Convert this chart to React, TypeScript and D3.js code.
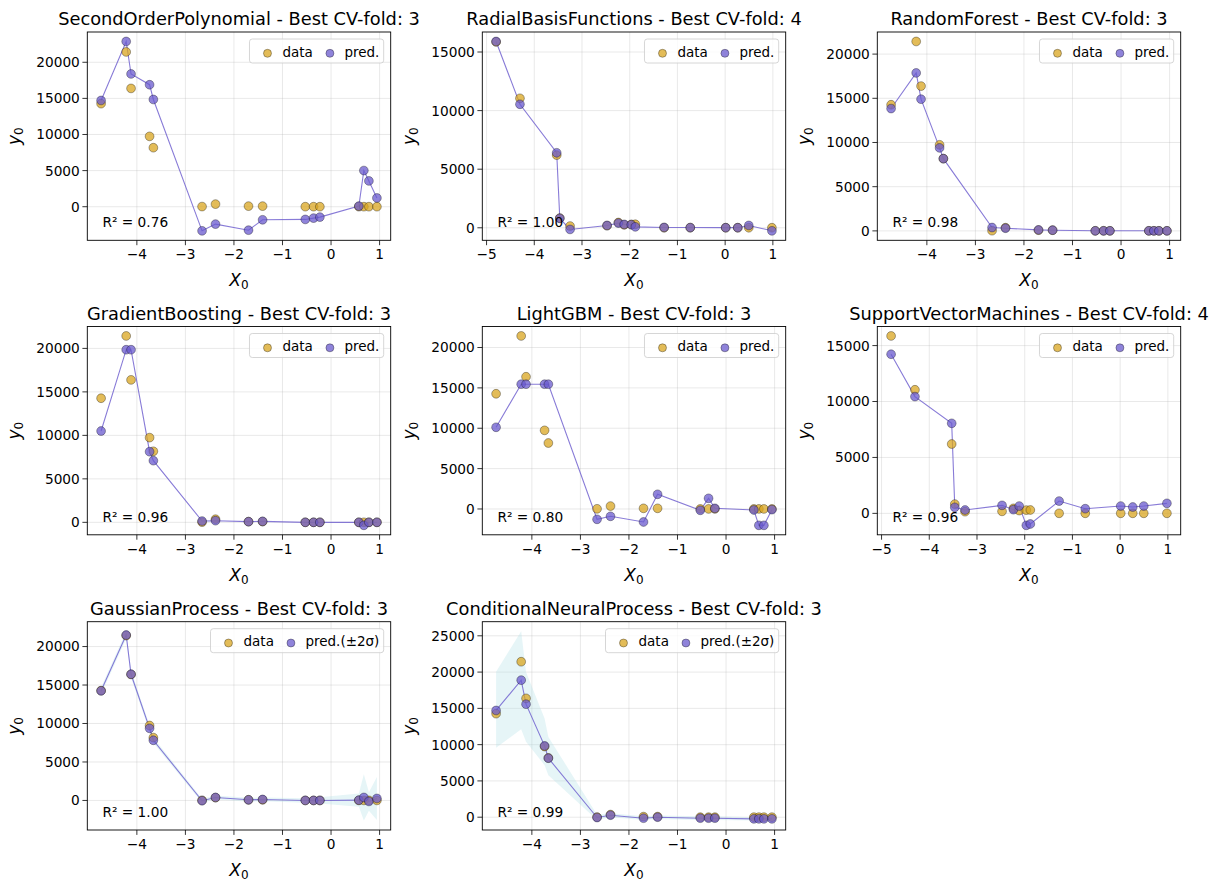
import React from 'react';
import * as d3 from 'd3';

// ---------------- data ----------------
const X_FOLD3 = [-4.737, -4.22, -4.12, -3.738, -3.66, -2.657, -2.38, -1.7, -1.41, -0.53, -0.36, -0.23, 0.573, 0.676, 0.78, 0.945];
const X_FOLD4 = [-4.8, -4.3, -3.53, -3.465, -3.25, -2.475, -2.237, -2.115, -1.966, -1.882, -1.279, -0.731, 0.012, 0.264, 0.495, 0.98];
const Y_FOLD3 = [14270, 21430, 16380, 9740, 8170, 20, 360, 80, 80, 5, 5, 5, 5, 5, 5, 5];
const Y_FOLD4 = [15860, 11050, 6200, 830, 150, 180, 450, 250, 290, 300, 5, 5, 5, 5, 5, 5];

const MODEL_NAMES = ['SecondOrderPolynomial', 'RadialBasisFunctions', 'RandomForest', 'GradientBoosting', 'LightGBM', 'SupportVectorMachines', 'GaussianProcess', 'ConditionalNeuralProcess'];
const BEST_FOLDS = [3, 4, 3, 3, 3, 4, 3, 3];
const R2_SCORES = ['0.76', '1.00', '0.98', '0.96', '0.80', '0.96', '1.00', '0.99'];

const PRED_SOP = [14710, 22880, 18380, 16890, 14850, -3340, -2410, -3250, -1810, -1760, -1580, -1440, 90, 5010, 3570, 1210];
const PRED_RBF = [15900, 10540, 6400, 800, -140, 200, 400, 290, 260, 80, 30, 20, 10, 10, 200, -260];
const PRED_RF = [13840, 17870, 14900, 9390, 8175, 380, 300, 110, 76, 10, 10, 10, 10, 10, 10, 10];
const PRED_GB = [10500, 19850, 19850, 8120, 7090, 150, 190, 77, 115, 0, 0, 0, 0, -345, 0, 0];
const PRED_LGBM = [10120, 15455, 15455, 15455, 15455, -1280, -910, -1610, 1820, -165, 1320, 83, -124, -2025, -2025, -83];
const PRED_SVM = [14225, 10440, 8050, 540, 300, 716, 330, 656, -1070, -950, 1100, 418, 656, 567, 656, 895];
const PRED_GP = [14250, 21500, 16400, 9370, 7820, -40, 390, 86, 130, 0, 0, 0, 43, 389, -130, 259];
const LOWER_GP = [13800, 21000, 15950, 8970, 7470, -290, 140, -164, -120, -300, -350, -400, -807, -2611, -1330, -2541];
const UPPER_GP = [14700, 22000, 16850, 9770, 8170, 210, 640, 336, 380, 300, 350, 400, 893, 3389, 1070, 3059];
const PRED_CNP = [14710, 18890, 15580, 9830, 8130, -46, 276, -138, 0, -138, -138, -138, -230, -230, -230, -230];
const LOWER_CNP = [9555, 12130, 10400, 7170, 5790, -400, 0, -400, -250, -400, -400, -400, -460, -460, -460, -460];
const UPPER_CNP = [20030, 25640, 20000, 13600, 11070, 350, 560, 130, 250, 130, 130, 130, 0, 0, 0, 0];

const X_TICKS_FOLD3 = [-4, -3, -2, -1, 0, 1];
const X_TICKS_FOLD4 = [-5, -4, -3, -2, -1, 0, 1];
const Y_TICKS_15K = [0, 5000, 10000, 15000];
const Y_TICKS_20K = [0, 5000, 10000, 15000, 20000];
const Y_TICKS_25K = [0, 5000, 10000, 15000, 20000, 25000];

const LEGEND_DATA = 'data';
const LEGEND_PRED = 'pred.';
const LEGEND_PRED_SIGMA = 'pred.(±2σ)';

// ---------------- panel table ----------------
type PanelCfg = {
  name: string; fold: number; r2: string;
  x: number[]; data: number[]; pred: number[];
  lower?: number[]; upper?: number[];
  xTicks: number[]; yTicks: number[]; predLabel: string;
};

const PREDS = [PRED_SOP, PRED_RBF, PRED_RF, PRED_GB, PRED_LGBM, PRED_SVM, PRED_GP, PRED_CNP];
const LOWERS: (number[] | undefined)[] = [undefined, undefined, undefined, undefined, undefined, undefined, LOWER_GP, LOWER_CNP];
const UPPERS: (number[] | undefined)[] = [undefined, undefined, undefined, undefined, undefined, undefined, UPPER_GP, UPPER_CNP];
const Y_TICKS = [Y_TICKS_20K, Y_TICKS_15K, Y_TICKS_20K, Y_TICKS_20K, Y_TICKS_20K, Y_TICKS_15K, Y_TICKS_20K, Y_TICKS_25K];

const PANELS: PanelCfg[] = MODEL_NAMES.map((name, i) => ({
  name,
  fold: BEST_FOLDS[i],
  r2: R2_SCORES[i],
  x: BEST_FOLDS[i] === 4 ? X_FOLD4 : X_FOLD3,
  data: BEST_FOLDS[i] === 4 ? Y_FOLD4 : Y_FOLD3,
  pred: PREDS[i],
  lower: LOWERS[i],
  upper: UPPERS[i],
  xTicks: BEST_FOLDS[i] === 4 ? X_TICKS_FOLD4 : X_TICKS_FOLD3,
  yTicks: Y_TICKS[i],
  predLabel: LOWERS[i] ? LEGEND_PRED_SIGMA : LEGEND_PRED,
}));

// ---------------- layout / style ----------------
const FIG_W = 1220;
const FIG_H = 889;
const COL_X = [87.3, 482.3, 877.3];
const ROW_Y = [32, 326.5, 621.7];
const AX_W = 303.4;
const AX_H = 208.3;
const FONT = "'DejaVu Sans', 'Liberation Sans', sans-serif";
const DATA_COLOR = '#DAA520';
const PRED_COLOR = '#6A5ACD';
const BAND_COLOR = '#B0E0E6';

const CHAR_W: Record<string, number> = {
  a: 0.613, d: 0.635, t: 0.392, p: 0.635, r: 0.411, e: 0.615, '.': 0.318,
  '(': 0.39, ')': 0.39, '±': 0.838, '2': 0.636, 'σ': 0.634,
};
const textWidth = (s: string, size: number) =>
  Array.from(s).reduce((acc, c) => acc + (CHAR_W[c] ?? 0.6), 0) * size;

const fmt = (v: number) => (v < 0 ? '\u2212' + String(Math.abs(v)) : String(v));

function Panel({ cfg, left, top, idx }: { cfg: PanelCfg; left: number; top: number; idx: number }) {
  const [x0, x1] = d3.extent(cfg.x) as [number, number];
  const xr = x1 - x0;
  const allY = [...cfg.data, ...cfg.pred, ...(cfg.lower ?? []), ...(cfg.upper ?? [])];
  const [y0, y1] = d3.extent(allY) as [number, number];
  const yr = y1 - y0;
  const xs = d3.scaleLinear().domain([x0 - 0.05 * xr, x1 + 0.05 * xr]).range([0, AX_W]);
  const ys = d3.scaleLinear().domain([y0 - 0.05 * yr, y1 + 0.05 * yr]).range([AX_H, 0]);

  const idxs = cfg.x.map((_, i) => i);
  const linePath = d3.line<number>().x((i) => xs(cfg.x[i])).y((i) => ys(cfg.pred[i]))(idxs) ?? '';
  const bandPath = cfg.lower && cfg.upper
    ? d3.area<number>().x((i) => xs(cfg.x[i])).y0((i) => ys(cfg.lower![i])).y1((i) => ys(cfg.upper![i]))(idxs) ?? ''
    : null;

  // legend layout
  const legFs = 13.5;
  const lRight = AX_W - 7;
  const w1 = textWidth(LEGEND_DATA, legFs);
  const w2 = textWidth(cfg.predLabel, legFs);
  const text2 = lRight - 4 - w2;
  const mark2 = text2 - 14.5;
  const text1 = mark2 - 17 - w1;
  const mark1 = text1 - 15;
  const lLeft = mark1 - 18;
  const lTop = 7;

  const clipId = `clip-${idx}`;

  return (
    <g transform={`translate(${left},${top})`}>
      <defs>
        <clipPath id={clipId}>
          <rect x={0} y={0} width={AX_W} height={AX_H} />
        </clipPath>
      </defs>
      <rect x={0} y={0} width={AX_W} height={AX_H} fill="#fff" />
      {/* grid */}
      <g stroke="#b0b0b0" strokeOpacity={0.35} strokeWidth={0.8}>
        {cfg.xTicks.map((t) => (
          <line key={`gx${t}`} x1={xs(t)} x2={xs(t)} y1={0} y2={AX_H} />
        ))}
        {cfg.yTicks.map((t) => (
          <line key={`gy${t}`} x1={0} x2={AX_W} y1={ys(t)} y2={ys(t)} />
        ))}
      </g>
      <g clipPath={`url(#${clipId})`}>
        {bandPath && <path d={bandPath} fill={BAND_COLOR} fillOpacity={0.32} stroke="none" />}
        <path d={linePath} fill="none" stroke={PRED_COLOR} strokeOpacity={0.8} strokeWidth={1.1} />
        {cfg.x.map((xv, i) => (
          <circle key={`d${i}`} cx={xs(xv)} cy={ys(cfg.data[i])} r={4.4}
            fill={DATA_COLOR} fillOpacity={0.75} stroke="#000" strokeOpacity={0.55} strokeWidth={0.6} />
        ))}
        {cfg.x.map((xv, i) => (
          <circle key={`p${i}`} cx={xs(xv)} cy={ys(cfg.pred[i])} r={4.4}
            fill={PRED_COLOR} fillOpacity={0.75} stroke="#000" strokeOpacity={0.55} strokeWidth={0.6} />
        ))}
      </g>
      {/* spines */}
      <rect x={0} y={0} width={AX_W} height={AX_H} fill="none" stroke="#000" strokeWidth={0.9} />
      {/* x ticks */}
      {cfg.xTicks.map((t) => (
        <g key={`tx${t}`} transform={`translate(${xs(t)},${AX_H})`}>
          <line y1={0} y2={4.9} stroke="#000" strokeWidth={0.8} />
          <text y={19} textAnchor="middle" fontSize={13.7} fill="#000">{fmt(t)}</text>
        </g>
      ))}
      {/* y ticks */}
      {cfg.yTicks.map((t) => (
        <g key={`ty${t}`} transform={`translate(0,${ys(t)})`}>
          <line x1={0} x2={-4.9} stroke="#000" strokeWidth={0.8} />
          <text x={-7.5} dy="0.36em" textAnchor="end" fontSize={13.7} fill="#000">{fmt(t)}</text>
        </g>
      ))}
      {/* title */}
      <text x={AX_W / 2} y={-7} textAnchor="middle" fontSize={17.8} fill="#000">
        {`${cfg.name} - Best CV-fold: ${cfg.fold}`}
      </text>
      {/* x label */}
      <text x={AX_W / 2} y={AX_H + 46} textAnchor="middle" fontSize={17} fill="#000">
        <tspan fontStyle="italic">X</tspan>
        <tspan fontSize={12} dy={3}>0</tspan>
      </text>
      {/* y label */}
      <text transform={`translate(-67,${AX_H / 2}) rotate(-90)`} textAnchor="middle" fontSize={17} fill="#000">
        <tspan fontStyle="italic">y</tspan>
        <tspan fontSize={12} dy={3}>0</tspan>
      </text>
      {/* R2 */}
      <text x={0.05 * AX_W} y={AX_H - 13} fontSize={13.7} fill="#000">{`R² = ${cfg.r2}`}</text>
      {/* legend */}
      <g>
        <rect x={lLeft} y={lTop} width={lRight - lLeft} height={24} rx={2.8} ry={2.8}
          fill="#fff" fillOpacity={0.8} stroke="#cccccc" strokeWidth={0.8} />
        <circle cx={mark1} cy={lTop + 14.3} r={4} fill={DATA_COLOR} fillOpacity={0.75} stroke="#000" strokeOpacity={0.55} strokeWidth={0.6} />
        <text x={text1} y={lTop + 17.7} fontSize={legFs} fill="#000">{LEGEND_DATA}</text>
        <circle cx={mark2} cy={lTop + 14.3} r={4} fill={PRED_COLOR} fillOpacity={0.75} stroke="#000" strokeOpacity={0.55} strokeWidth={0.6} />
        <text x={text2} y={lTop + 17.7} fontSize={legFs} fill="#000">{cfg.predLabel}</text>
      </g>
    </g>
  );
}

export default function App() {
  return (
    <svg width={FIG_W} height={FIG_H} viewBox={`0 0 ${FIG_W} ${FIG_H}`}
      style={{ position: 'absolute', left: 0, top: 0, background: '#fff' }}
      fontFamily={FONT}>
      <rect x={0} y={0} width={FIG_W} height={FIG_H} fill="#fff" />
      {PANELS.map((cfg, i) => (
        <Panel key={cfg.name} cfg={cfg} idx={i} left={COL_X[i % 3]} top={ROW_Y[Math.floor(i / 3)]} />
      ))}
    </svg>
  );
}
